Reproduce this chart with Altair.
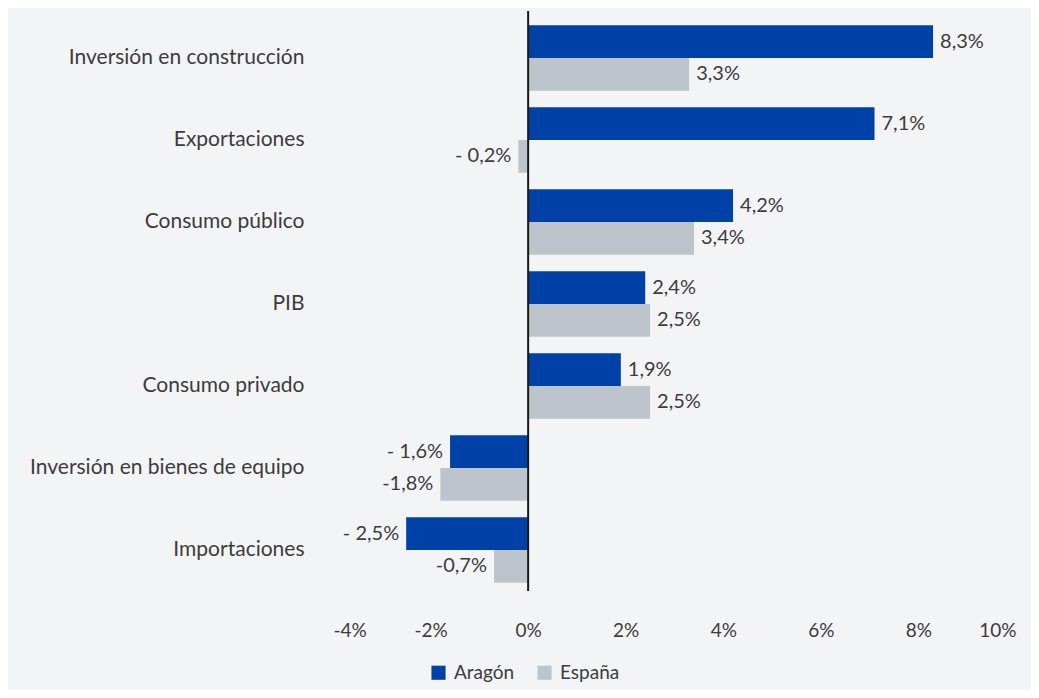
import altair as alt
import pandas as pd

categories = ["Inversión en construcción", "Exportaciones", "Consumo público", "PIB",
              "Consumo privado", "Inversión en bienes de equipo", "Importaciones"]
series = ["Aragón", "España"]
aragon = [8.3, 7.1, 4.2, 2.4, 1.9, -1.6, -2.5]
espana = [3.3, -0.2, 3.4, 2.5, 2.5, -1.8, -0.7]
aragon_labels = ["8,3%", "7,1%", "4,2%", "2,4%", "1,9%", "- 1,6%", "- 2,5%"]
espana_labels = ["3,3%", "- 0,2%", "3,4%", "2,5%", "2,5%", "-1,8%", "-0,7%"]
tick_values = [-4, -2, 0, 2, 4, 6, 8, 10]
colors = ["#0041a8", "#bec4cb"]

rows = []
for i, c in enumerate(categories):
    rows.append({"category": c, "series": series[0], "value": aragon[i], "label": aragon_labels[i]})
    rows.append({"category": c, "series": series[1], "value": espana[i], "label": espana_labels[i]})
df = pd.DataFrame(rows)

FONT = "Lato"
TXT = "#3c3c3c"

yenc = alt.Y("category:N", sort=categories, title=None,
             scale=alt.Scale(paddingInner=0.2, paddingOuter=0.1),
             axis=alt.Axis(domain=False, ticks=False, labelPadding=29, labelFontSize=21,
                           labelFont=FONT, labelColor=TXT, labelLimit=400))
yoff = alt.YOffset("series:N", sort=series)
xenc = alt.X("value:Q", title=None,
             scale=alt.Scale(domain=[-4, 10], nice=False),
             axis=alt.Axis(values=tick_values, labelExpr="datum.value + '%'",
                           domain=False, ticks=False, grid=False, labelPadding=30,
                           labelFontSize=19, labelFont=FONT, labelColor=TXT))

bars = alt.Chart(df).mark_bar().encode(
    y=yenc, yOffset=yoff, x=xenc,
    color=alt.Color("series:N", sort=series, title=None,
                    scale=alt.Scale(domain=series, range=colors),
                    legend=alt.Legend(orient="none", legendX=96, legendY=646,
                                      direction="horizontal", symbolType="square",
                                      symbolSize=200, symbolStrokeWidth=0, labelFontSize=19,
                                      labelFont=FONT, labelColor=TXT, columnPadding=20,
                                      labelOffset=6)),
)

pos = alt.Chart(df).transform_filter("datum.value >= 0").mark_text(
    align="left", baseline="middle", dx=7, fontSize=20, font=FONT, color=TXT
).encode(y=alt.Y("category:N", sort=categories), yOffset=yoff, x="value:Q", text="label:N")

neg = alt.Chart(df).transform_filter("datum.value < 0").mark_text(
    align="right", baseline="middle", dx=-7, fontSize=20, font=FONT, color=TXT
).encode(y=alt.Y("category:N", sort=categories), yOffset=yoff, x="value:Q", text="label:N")

zero = alt.Chart(pd.DataFrame({"z": [0]})).mark_rule(color="#1a1a1a", strokeWidth=2).encode(
    x="z:Q", y=alt.value(-6), y2=alt.value(574))

chart = alt.layer(bars, pos, neg, zero).properties(
    width=683, height=574, background="#f3f4f6",
    autosize=alt.AutoSizeParams(type="none"),
    padding={"left": 325, "top": 9, "right": 15, "bottom": 99}
).configure_view(stroke=None)

chart.save("out.html", embed_options={"renderer": "svg", "actions": False})
